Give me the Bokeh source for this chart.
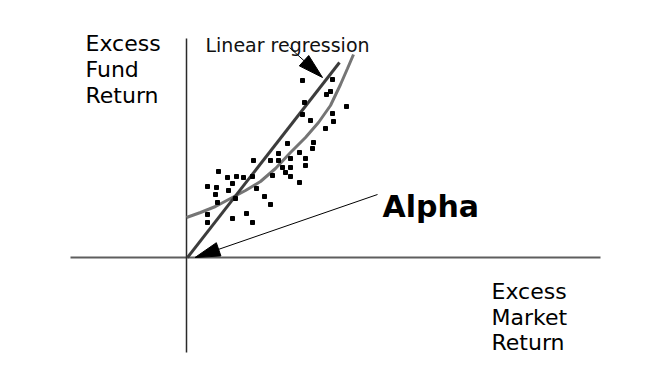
import math
from bokeh.plotting import figure
from bokeh.models import Range1d, Label
from bokeh.embed import file_html
from bokeh.resources import INLINE

# ---- data (units: excess market return x, excess fund return y) ----
fund_x = [11.5, 14.5, 13.9, 14.3, 11.7, 15.9, 14.5, 11.5, 12.3, 14.6, 13.8, 10.0,
          12.6, 12.5, 11.2, 9.1, 10.3, 6.6, 8.3, 9.1, 11.8, 9.5, 10.3, 11.8,
          3.1, 9.8, 8.5, 4.0, 4.9, 5.6, 6.5, 10.3, 4.5, 11.2, 2.0, 2.9,
          6.9, 4.1, 2.8, 4.8, 7.7, 3.0, 8.3, 2.0, 5.9, 4.5, 6.5, 2.0]
fund_y = [17.7, 17.8, 16.3, 16.6, 15.5, 15.1, 14.4, 14.3, 13.7, 13.6, 12.9, 11.4,
          11.5, 10.9, 10.5, 10.4, 9.9, 9.7, 9.7, 9.7, 9.9, 9.0, 9.0, 9.2,
          8.6, 8.5, 8.2, 8.0, 8.1, 8.0, 8.1, 8.1, 7.4, 7.5, 7.1, 7.0,
          6.9, 6.7, 6.3, 5.9, 6.1, 5.5, 5.3, 4.3, 4.4, 3.9, 3.5, 3.5]

reg_x = [0.0, 15.2]
reg_y = [0.0, 19.5]

curve_x = [-0.1, 1.3, 2.8, 4.3, 5.8, 7.3, 8.8, 10.3, 11.8, 13.1, 14.3, 15.3, 16.0, 16.6]
curve_y = [4.0, 4.5, 5.1, 5.9, 6.7, 7.6, 8.9, 10.5, 12.0, 13.5, 15.2, 17.3, 18.9, 20.3]

# axis extents
x_axis_ext = [-11.7, 41.3]
y_axis_ext = [-9.5, 21.9]

# annotation arrows: (start x, start y, tip x, tip y)
reg_arrow = (10.2, 21.0, 13.5, 18.0)
alpha_arrow = (19.0, 6.3, 0.75, 0.0)

left_labels = ["Excess", "Fund", "Return"]
right_labels = ["Excess", "Market", "Return"]

W, H = 654, 364
PX = 10.0  # pixels per data unit
ox, oy = 187, 257  # origin position in frame pixels

p = figure(width=W, height=H, output_backend="svg", toolbar_location=None,
           x_range=Range1d(-ox / PX, (W - ox) / PX),
           y_range=Range1d(-(H - oy) / PX, oy / PX),
           min_border=0, x_axis_type=None, y_axis_type=None)
p.outline_line_color = None
p.grid.visible = False
p.background_fill_color = "white"
p.border_fill_color = "white"

# axes
p.line(x_axis_ext, [0, 0], line_color="#5e5e5e", line_width=2)
p.line([-0.1, -0.1], y_axis_ext, line_color="#2a2a2a", line_width=1.5)

# curve and regression line
p.line(curve_x, curve_y, line_color="#757575", line_width=3)
p.line(reg_x, reg_y, line_color="#3c3c3c", line_width=3)

# scatter points
p.scatter(fund_x, fund_y, marker="square", size=4, fill_color="black", line_color="black")


def arrow(a, head_len=25, head_w=14):
    x0, y0, x1, y1 = a
    dx, dy = x1 - x0, y1 - y0
    d = math.hypot(dx, dy)
    ux, uy = dx / d, dy / d
    L, Wd = head_len / PX, head_w / PX / 2
    bx, by = x1 - ux * L, y1 - uy * L
    p.line([x0, bx + ux * 0.3], [y0, by + uy * 0.3], line_color="black", line_width=1)
    p.patch([x1, bx - uy * Wd, bx + uy * Wd], [y1, by + ux * Wd, by - ux * Wd],
            fill_color="black", line_color="black", line_width=1)


arrow(reg_arrow)
arrow(alpha_arrow)

for i, t in enumerate(left_labels):
    p.add_layout(Label(x=-10.2, y=21.4 - 2.6 * i, text=t, text_font="DejaVu Sans",
                       text_font_size="22px", text_baseline="alphabetic",
                       text_align="left", text_color="black"))
for i, t in enumerate(right_labels):
    p.add_layout(Label(x=30.4, y=-3.4 - 2.55 * i, text=t, text_font="DejaVu Sans",
                       text_font_size="22px", text_baseline="alphabetic",
                       text_align="left", text_color="black"))

p.add_layout(Label(x=1.8, y=21.3, text="Linear regression", text_font="DejaVu Sans",
                   text_font_size="19px", text_baseline="alphabetic",
                   text_align="left", text_color="#111111"))
p.add_layout(Label(x=19.5, y=5.1, text="Alpha", text_font="DejaVu Sans",
                   text_font_size="30px", text_font_style="bold",
                   text_baseline="alphabetic", text_align="left", text_color="black"))

open("out.html", "w").write(file_html(p, INLINE))
